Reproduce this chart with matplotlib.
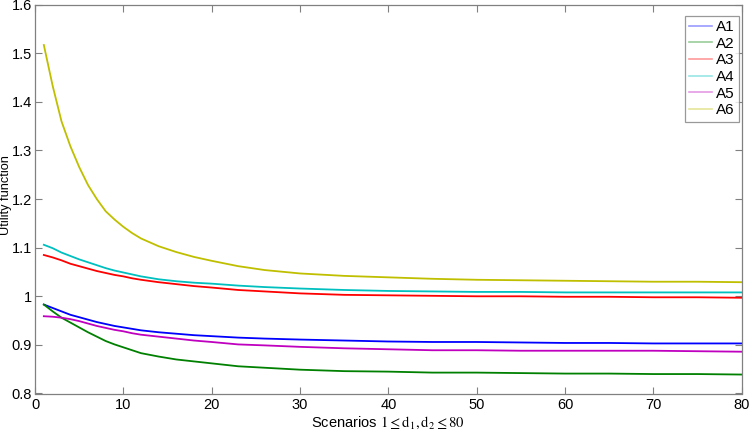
import matplotlib
matplotlib.use("Agg")
import matplotlib.pyplot as plt
from matplotlib.lines import Line2D
from matplotlib.ticker import FuncFormatter

plt.rcParams['font.family'] = ['Liberation Sans', 'DejaVu Sans']
plt.rcParams['mathtext.fontset'] = 'stix'

x = [1, 2, 3, 4, 5, 6, 7, 8, 9, 10, 11, 12, 14, 16, 18, 20, 23, 26, 30, 35, 40, 45, 50, 55, 60, 65, 70, 75, 80]

A1 = [0.983, 0.976, 0.969, 0.962, 0.957, 0.952, 0.947, 0.943, 0.939, 0.936, 0.933, 0.930, 0.926, 0.923, 0.920,
      0.918, 0.915, 0.913, 0.911, 0.909, 0.907, 0.906, 0.906, 0.905, 0.904, 0.904, 0.903, 0.903, 0.903]
A2 = [0.983, 0.969, 0.956, 0.946, 0.936, 0.926, 0.917, 0.908, 0.901, 0.895, 0.889, 0.883, 0.876, 0.870, 0.866,
      0.862, 0.856, 0.853, 0.849, 0.846, 0.845, 0.843, 0.843, 0.842, 0.841, 0.841, 0.840, 0.840, 0.839]
A3 = [1.085, 1.080, 1.074, 1.067, 1.062, 1.057, 1.052, 1.048, 1.044, 1.041, 1.037, 1.034, 1.029, 1.025, 1.021,
      1.018, 1.013, 1.010, 1.006, 1.003, 1.002, 1.001, 1.000, 1.000, 0.999, 0.999, 0.998, 0.998, 0.997]
A4 = [1.106, 1.099, 1.090, 1.083, 1.076, 1.070, 1.064, 1.058, 1.053, 1.049, 1.045, 1.041, 1.035, 1.031, 1.028,
      1.026, 1.022, 1.019, 1.016, 1.013, 1.011, 1.010, 1.009, 1.009, 1.008, 1.008, 1.008, 1.008, 1.008]
A5 = [0.959, 0.958, 0.956, 0.953, 0.949, 0.944, 0.939, 0.935, 0.931, 0.928, 0.924, 0.921, 0.917, 0.913, 0.909,
      0.906, 0.901, 0.899, 0.896, 0.893, 0.891, 0.889, 0.889, 0.888, 0.888, 0.888, 0.888, 0.887, 0.886]
A6 = [1.517, 1.433, 1.360, 1.309, 1.266, 1.229, 1.200, 1.175, 1.158, 1.143, 1.130, 1.119, 1.103, 1.091, 1.081,
      1.073, 1.062, 1.054, 1.047, 1.042, 1.039, 1.036, 1.034, 1.033, 1.032, 1.031, 1.030, 1.030, 1.029]

names = ['A1', 'A2', 'A3', 'A4', 'A5', 'A6']
series = [A1, A2, A3, A4, A5, A6]
colors = ['#0000ff', '#008000', '#ff0000', '#00bfbf', '#bf00bf', '#bfbf00']

xticks = [0, 10, 20, 30, 40, 50, 60, 70, 80]
yticks = [0.8, 0.9, 1.0, 1.1, 1.2, 1.3, 1.4, 1.5, 1.6]

fig = plt.figure(figsize=(7.5, 4.32), dpi=100)
ax = fig.add_axes([35/750, (432-393.5)/432, (741.7-35)/750, (393.5-4.7)/432])

for name, ys, c in zip(names, series, colors):
    ax.plot(x, ys, color=c, lw=1.3, solid_joinstyle='round')

ax.set_xlim(0, 80)
ax.set_ylim(0.8, 1.6)
ax.set_xticks(xticks)
ax.set_yticks(yticks)
ax.yaxis.set_major_formatter(FuncFormatter(lambda v, p: f"{v:g}"))
ax.tick_params(direction='in', top=True, right=True, length=5, width=0.8,
               color='#808080', labelsize=10.5, labelcolor='black')
ax.tick_params(axis='y', pad=2)
for s in ax.spines.values():
    s.set_color('#808080')
    s.set_linewidth(0.9)

ax.set_ylabel('Utility function', fontsize=9.2, va='center')
ax.yaxis.set_label_coords(-0.041, 0.51)
ax.set_xlabel(r'Scenarios $\mathrm{1{\leq}d_{\mathit{1}},d_{2}{\leq}80}$', fontsize=10.5, labelpad=2)

handles = [Line2D([0], [0], color=c, lw=1.2, alpha=0.4) for c in colors]
leg = ax.legend(handles, names, loc='upper right', fontsize=11, frameon=True, fancybox=False,
                edgecolor='#808080', handlelength=1.45, handletextpad=0.3, labelspacing=0.17,
                borderpad=0.3, borderaxespad=0.15, bbox_to_anchor=(1.0, 0.978))
leg.get_frame().set_linewidth(0.9)

fig.savefig('out.png', dpi=100)
